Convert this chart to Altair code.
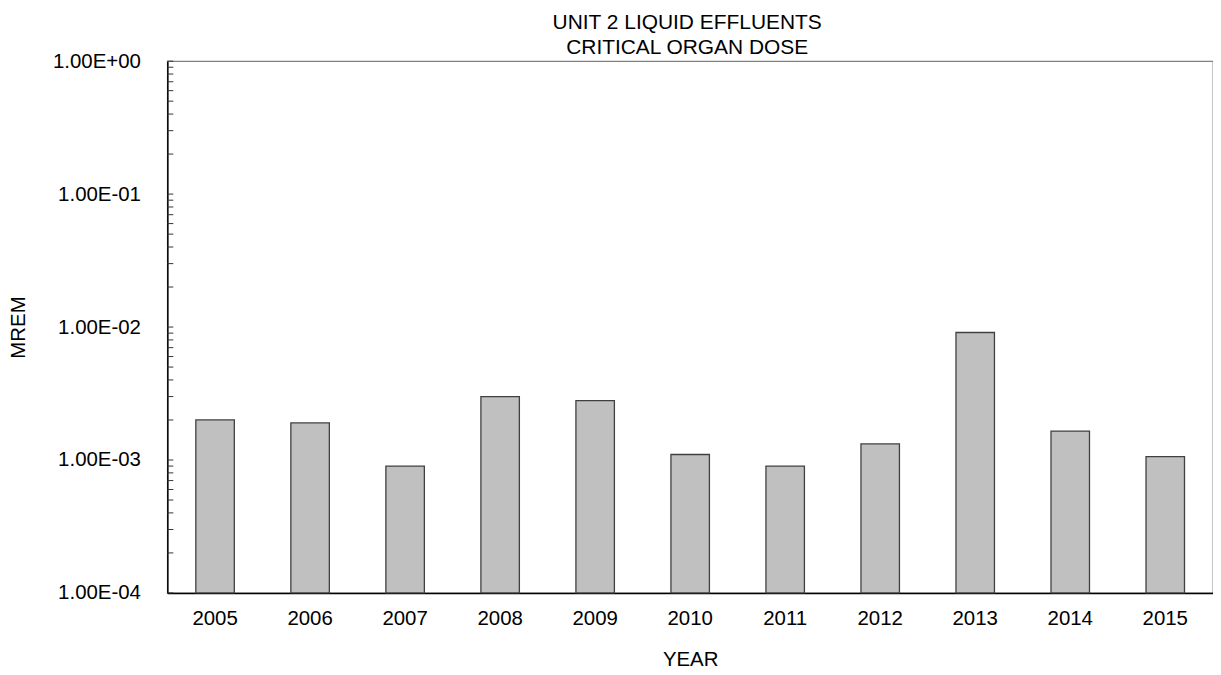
import altair as alt
import pandas as pd

years = ["2005", "2006", "2007", "2008", "2009", "2010", "2011", "2012", "2013", "2014", "2015"]
dose = [2.0e-3, 1.9e-3, 9.0e-4, 3.0e-3, 2.8e-3, 1.1e-3, 9.0e-4, 1.32e-3, 9.1e-3, 1.65e-3, 1.06e-3]
decades = [1e-4, 1e-3, 1e-2, 1e-1, 1e0]
multiples = [1, 2, 3, 4, 5, 6, 7, 8, 9]

df = pd.DataFrame({"YEAR": years, "MREM": dose})
tick_vals = [d * m for d in decades[:-1] for m in multiples] + [decades[-1]]
ticks = pd.DataFrame({"v": tick_vals})

FONT = "Liberation Sans"
yscale = alt.Scale(type="log", domain=[1e-4, 1], nice=False)

label_expr = ("'1.00E' + (round(log(datum.value)/LN10) < 0 ? '-' : '+') + '0' + "
              "abs(round(log(datum.value)/LN10))")

bars = alt.Chart(df).mark_bar(
    color="#c0c0c0", stroke="#404040", strokeWidth=1.3
).encode(
    x=alt.X("YEAR:N", sort=years,
            scale=alt.Scale(paddingInner=0.595, paddingOuter=0.3),
            axis=alt.Axis(title="YEAR", labelAngle=0, ticks=False, labelPadding=16,
                          labelFontSize=20.5, labelFont=FONT, labelColor="black",
                          titleFont=FONT, titleFontSize=20.5, titleFontWeight="normal",
                          titleColor="black", titleY=67, titleBaseline="middle",
                          domainColor="black", domainWidth=1.5)),
    y=alt.Y("MREM:Q", scale=yscale,
            axis=alt.Axis(title="MREM", values=decades, labelExpr=label_expr,
                          ticks=False, labelPadding=27, labelFontSize=20.5,
                          labelFont=FONT, labelColor="black", grid=False,
                          titleFont=FONT, titleFontSize=20.5, titleFontWeight="normal",
                          titleColor="black", titleX=-149, titleY=267,
                          titleBaseline="middle", titleAlign="center",
                          domainColor="black", domainWidth=1.5)),
    y2=alt.Y2(datum=1e-4),
)

tick_rules = alt.Chart(ticks).mark_rule(color="#333333", strokeWidth=1).encode(
    y=alt.Y("v:Q", scale=yscale),
    x=alt.value(0),
    x2=alt.value(6),
)

chart = alt.layer(bars, tick_rules).properties(
    width=1050,
    height=534,
    title=alt.TitleParams(
        text=["UNIT 2 LIQUID EFFLUENTS", "CRITICAL ORGAN DOSE"],
        font=FONT, fontSize=21, fontWeight="normal", color="black",
        lineHeight=24.7, anchor="middle", baseline="bottom", offset=3, dx=-3, dy=30.5,
    ),
    autosize=alt.AutoSizeParams(type="none"),
    padding={"left": 160, "top": 52, "right": 0, "bottom": 75},
).configure_view(
    stroke="#808080", strokeWidth=1.3
)

chart.save("out.html", embed_options={"renderer": "svg", "actions": False})
